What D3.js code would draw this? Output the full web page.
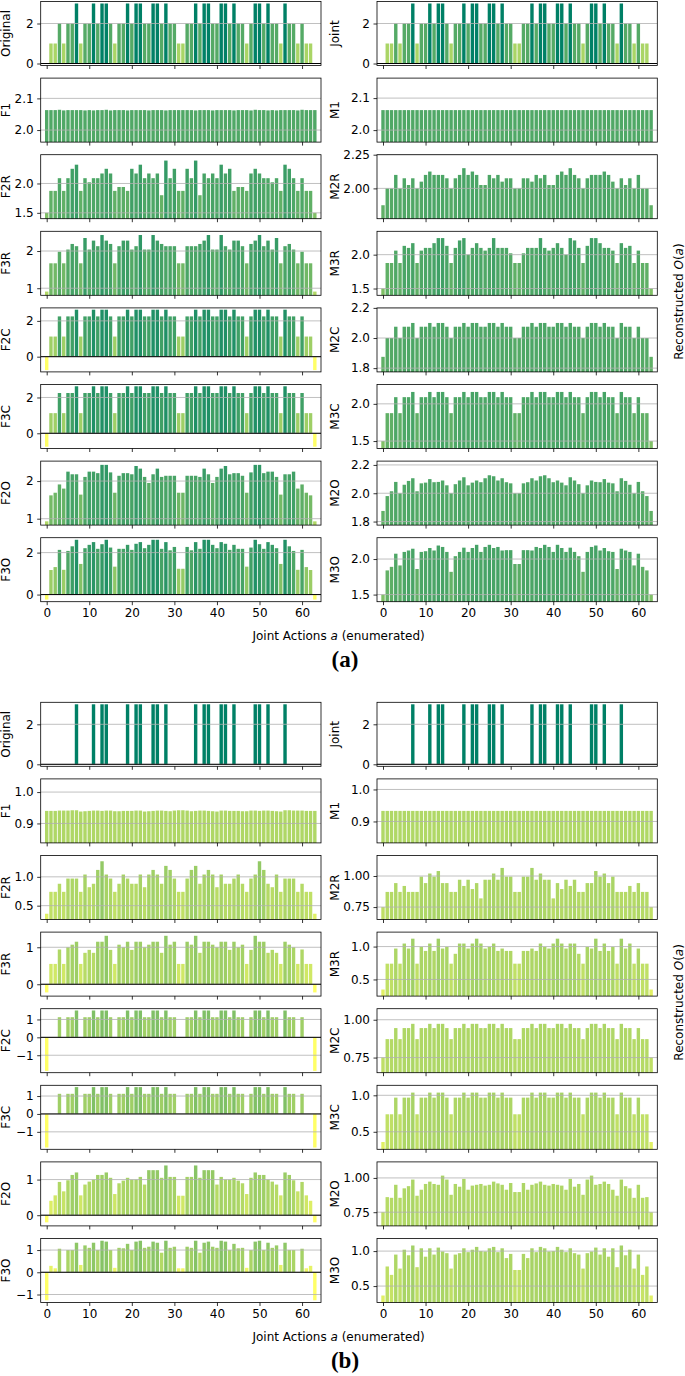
<!DOCTYPE html>
<html><head><meta charset="utf-8">
<script src="https://cdn.jsdelivr.net/npm/d3@7"></script>
<style>body{margin:0;background:#fff}</style>
</head><body>
<svg id="c" width="685" height="1376"></svg>
<script>
const actions = [0,1,2,3,4,5,6,7,8,9,10,11,12,13,14,15,16,17,18,19,20,21,22,23,24,25,26,27,28,29,30,31,32,33,34,35,36,37,38,39,40,41,42,43,44,45,46,47,48,49,50,51,52,53,54,55,56,57,58,59,60,61,62,63];
const xTicks = [0,10,20,30,40,50,60];

// ---------- figure (a) ----------
const aOriginal = [0,1,1,2,1,2,2,3,1,2,2,3,2,3,3,2,1,2,2,3,2,3,3,2,2,3,3,2,3,2,2,1,
                   1,2,2,3,2,3,3,2,2,3,3,2,3,2,2,1,2,3,3,2,3,2,2,1,3,2,2,1,2,1,1,0];
const aJoint    = [0,1,1,2,1,2,2,3,1,2,2,3,2,3,3,2,1,2,2,3,2,3,3,2,2,3,3,2,3,2,2,1,
                   1,2,2,3,2,3,3,2,2,3,3,2,3,2,2,1,2,3,3,2,3,2,2,1,3,2,2,1,2,1,1,0];
const aF1 = [2.063,2.063,2.063,2.064,2.062,2.063,2.063,2.063,2.063,2.062,2.063,2.062,2.063,2.063,2.064,2.062,2.063,2.063,2.063,2.062,2.063,2.063,2.063,2.063,2.062,2.063,2.063,2.063,2.062,2.063,2.063,2.063,
             2.063,2.063,2.063,2.062,2.063,2.063,2.063,2.062,2.063,2.063,2.063,2.063,2.062,2.063,2.063,2.063,2.062,2.064,2.063,2.063,2.062,2.063,2.062,2.063,2.063,2.063,2.063,2.062,2.064,2.063,2.063,2.063];
const aM1 = [2.0625,2.0625,2.0625,2.0625,2.0625,2.0625,2.0625,2.0625,2.0625,2.0625,2.0625,2.0625,2.0625,2.0625,2.0625,2.0625,2.0625,2.0625,2.0625,2.0625,2.0625,2.0625,2.0625,2.0625,2.0625,2.0625,2.0625,2.0625,2.0625,2.0625,2.0625,2.0625,
             2.0625,2.0625,2.0625,2.0625,2.0625,2.0625,2.0625,2.0625,2.0625,2.0625,2.0625,2.0625,2.0625,2.0625,2.0625,2.0625,2.0625,2.0625,2.0625,2.0625,2.0625,2.0625,2.0625,2.0625,2.0625,2.0625,2.0625,2.0625,2.0625,2.0625,2.0625,2.0625];
const aF2R = [1.5,1.874,1.874,2.09,1.874,2.09,2.25,2.32,1.874,2.09,2.02,2.09,2.09,2.17,2.25,2.17,1.874,1.94,1.94,1.874,2.25,2.17,2.32,2.09,2.17,2.09,2.17,1.80,2.39,2.09,2.25,1.874,
              1.874,2.25,2.09,2.39,1.80,2.17,2.09,2.17,2.09,2.32,2.17,2.25,1.874,1.94,1.94,1.874,2.17,2.25,2.17,2.09,2.09,2.02,2.09,1.874,2.32,2.25,2.09,1.874,2.09,1.874,1.874,1.5];
const aM2R = [1.875,2.0,2.0,2.1,2.0,2.075,2.025,2.075,2.0,2.05,2.1,2.125,2.1,2.1,2.1,2.075,2.0,2.075,2.1,2.15,2.1,2.125,2.1,2.025,2.025,2.1,2.075,2.1,2.05,2.075,2.075,2.0,
              2.0,2.075,2.075,2.05,2.1,2.075,2.1,2.025,2.025,2.1,2.125,2.1,2.15,2.1,2.075,2.0,2.075,2.1,2.1,2.1,2.125,2.1,2.05,2.0,2.075,2.025,2.075,2.0,2.1,2.0,2.0,1.875];
const aF3R = [0.91,1.67,1.67,1.98,1.67,2.04,2.19,2.13,1.67,2.35,2.04,2.28,2.13,2.43,2.28,2.19,1.67,2.13,2.28,2.28,2.04,2.13,2.43,2.04,2.04,2.43,2.28,2.19,2.13,2.13,2.13,1.67,
              1.67,2.13,2.13,2.13,2.19,2.28,2.43,2.04,2.04,2.43,2.13,2.04,2.28,2.28,2.13,1.67,2.19,2.28,2.43,2.13,2.28,2.04,2.35,1.67,2.13,2.19,2.04,1.67,1.98,1.67,1.67,0.91];
const aM3R = [1.5,1.877,1.877,2.06,1.877,2.13,2.1,2.17,1.877,2.06,2.1,2.1,2.17,2.245,2.245,2.13,1.877,2.1,2.21,2.245,2.0,2.1,2.17,2.1,2.06,2.1,2.245,2.1,2.1,2.1,2.02,1.877,
              1.877,2.02,2.1,2.1,2.1,2.245,2.1,2.06,2.1,2.17,2.1,2.0,2.245,2.21,2.1,1.877,2.13,2.245,2.245,2.17,2.1,2.1,2.06,1.877,2.17,2.1,2.13,1.877,2.06,1.877,1.877,1.5];
const aF2C = [-0.75,1.125,1.125,2.25,1.125,2.25,2.25,2.625,1.125,2.25,2.25,2.625,2.25,2.625,2.625,2.25,1.125,2.25,2.25,2.625,2.25,2.625,2.625,2.25,2.25,2.625,2.625,2.25,2.625,2.25,2.25,1.125,
              1.125,2.25,2.25,2.625,2.25,2.625,2.625,2.25,2.25,2.625,2.625,2.25,2.625,2.25,2.25,1.125,2.25,2.625,2.625,2.25,2.625,2.25,2.25,1.125,2.625,2.25,2.25,1.125,2.25,1.125,1.125,-0.75];
const aM2C = [1.875,2.0,2.0,2.075,2.0,2.075,2.075,2.1,2.0,2.075,2.075,2.1,2.075,2.1,2.1,2.075,2.0,2.075,2.075,2.1,2.075,2.1,2.1,2.075,2.075,2.1,2.1,2.075,2.1,2.075,2.075,2.0,
              2.0,2.075,2.075,2.1,2.075,2.1,2.1,2.075,2.075,2.1,2.1,2.075,2.1,2.075,2.075,2.0,2.075,2.1,2.1,2.075,2.1,2.075,2.075,2.0,2.1,2.075,2.075,2.0,2.075,2.0,2.0,1.875];
const aF3C = [-0.75,1.125,1.125,2.25,1.125,2.25,2.25,2.625,1.125,2.25,2.25,2.625,2.25,2.625,2.625,2.25,1.125,2.25,2.25,2.625,2.25,2.625,2.625,2.25,2.25,2.625,2.625,2.25,2.625,2.25,2.25,1.125,
              1.125,2.25,2.25,2.625,2.25,2.625,2.625,2.25,2.25,2.625,2.625,2.25,2.625,2.25,2.25,1.125,2.25,2.625,2.625,2.25,2.625,2.25,2.25,1.125,2.625,2.25,2.25,1.125,2.25,1.125,1.125,-0.75];
const aM3C = [1.5,1.875,1.875,2.09,1.875,2.09,2.09,2.16,1.875,2.09,2.09,2.16,2.09,2.16,2.16,2.09,1.875,2.09,2.09,2.16,2.09,2.16,2.16,2.09,2.09,2.16,2.16,2.09,2.16,2.09,2.09,1.875,
              1.875,2.09,2.09,2.16,2.09,2.16,2.16,2.09,2.09,2.16,2.16,2.09,2.16,2.09,2.09,1.875,2.09,2.16,2.16,2.09,2.16,2.09,2.09,1.875,2.16,2.09,2.09,1.875,2.09,1.875,1.875,1.5];
const aF2O = [0.93,1.62,1.69,1.91,1.8,2.25,2.18,2.18,1.64,2.11,2.25,2.25,2.21,2.43,2.43,2.23,1.69,2.14,2.21,2.21,2.18,2.4,2.33,2.11,1.95,2.18,2.33,2.11,2.14,2.14,2.14,1.69,
              1.69,2.14,2.14,2.14,2.11,2.33,2.18,1.95,2.11,2.33,2.4,2.18,2.21,2.21,2.14,1.69,2.23,2.43,2.43,2.21,2.25,2.25,2.11,1.64,2.18,2.18,2.25,1.8,1.91,1.69,1.62,0.93];
const aM2O = [1.875,1.98,2.014,2.08,2.0,2.06,2.087,2.106,2.014,2.07,2.075,2.1,2.078,2.08,2.09,2.056,2.0,2.064,2.09,2.113,2.056,2.075,2.09,2.078,2.106,2.127,2.12,2.09,2.106,2.078,2.07,2.0,
              2.0,2.07,2.078,2.106,2.09,2.12,2.127,2.106,2.078,2.09,2.075,2.056,2.113,2.09,2.064,2.0,2.056,2.09,2.08,2.078,2.1,2.075,2.07,2.014,2.106,2.087,2.06,2.0,2.08,2.014,1.98,1.875];
const aF3O = [-0.24,1.17,1.31,2.13,1.18,2.08,2.3,2.61,1.46,2.21,2.37,2.5,2.18,2.4,2.61,2.24,1.33,2.18,2.18,2.37,2.13,2.42,2.5,2.21,2.37,2.61,2.61,2.18,2.5,2.11,2.27,1.23,
              1.23,2.27,2.11,2.5,2.18,2.61,2.61,2.37,2.21,2.5,2.42,2.13,2.37,2.18,2.18,1.33,2.24,2.61,2.4,2.18,2.5,2.37,2.21,1.46,2.61,2.3,2.08,1.18,2.13,1.31,1.17,-0.24];
const aM3O = [1.5,1.84,1.89,2.075,1.91,2.1,2.12,2.145,1.86,2.1,2.11,2.155,2.12,2.19,2.17,2.1,1.82,2.04,2.1,2.16,2.1,2.155,2.2,2.1,2.17,2.2,2.155,2.17,2.12,2.125,2.125,1.93,
              1.93,2.125,2.125,2.12,2.17,2.155,2.2,2.17,2.1,2.2,2.155,2.1,2.16,2.1,2.04,1.82,2.1,2.17,2.19,2.12,2.155,2.11,2.1,1.86,2.145,2.12,2.1,1.91,2.075,1.89,1.84,1.5];

// ---------- figure (b) ----------
const bOriginal = [0,0,0,0,0,0,0,3,0,0,0,3,0,3,3,0,0,0,0,3,0,3,3,0,0,3,3,0,3,0,0,0,
                   0,0,0,3,0,3,3,0,0,3,3,0,3,0,0,0,0,3,3,0,3,0,0,0,3,0,0,0,0,0,0,0];
const bJoint    = [0,0,0,0,0,0,0,3,0,0,0,3,0,3,3,0,0,0,0,3,0,3,3,0,0,3,3,0,3,0,0,0,
                   0,0,0,3,0,3,3,0,0,3,3,0,3,0,0,0,0,3,3,0,3,0,0,0,3,0,0,0,0,0,0,0];
const bF1 = [0.940,0.940,0.940,0.941,0.941,0.941,0.942,0.942,0.938,0.939,0.940,0.941,0.941,0.940,0.941,0.941,0.939,0.939,0.940,0.940,0.940,0.941,0.941,0.938,0.939,0.940,0.941,0.941,0.940,0.939,0.941,0.942,
             0.942,0.941,0.939,0.940,0.941,0.941,0.940,0.939,0.938,0.941,0.941,0.940,0.940,0.940,0.939,0.939,0.941,0.941,0.940,0.941,0.941,0.940,0.939,0.938,0.942,0.942,0.941,0.941,0.941,0.940,0.940,0.940];
const bM1 = [0.933,0.933,0.933,0.933,0.933,0.933,0.933,0.933,0.933,0.933,0.933,0.933,0.933,0.933,0.933,0.933,0.933,0.933,0.933,0.933,0.933,0.933,0.933,0.933,0.933,0.933,0.933,0.933,0.933,0.933,0.933,0.933,
             0.933,0.933,0.933,0.933,0.933,0.933,0.933,0.933,0.933,0.933,0.933,0.933,0.933,0.933,0.933,0.933,0.933,0.933,0.933,0.933,0.933,0.933,0.933,0.933,0.933,0.933,0.933,0.933,0.933,0.933,0.933,0.933];
const bF2R = [0.36,0.74,0.74,0.88,0.74,0.97,0.97,0.97,0.74,1.04,0.82,0.88,1.12,1.27,1.04,0.97,0.74,0.88,1.04,0.97,0.88,0.88,1.04,0.82,1.04,1.12,1.04,0.88,1.19,1.12,0.97,0.74,
              0.74,0.97,1.12,1.19,0.88,1.04,1.12,1.04,0.82,1.04,0.88,0.88,0.97,1.04,0.88,0.74,0.97,1.04,1.27,1.12,0.88,0.82,1.04,0.74,0.97,0.97,0.97,0.74,0.88,0.74,0.74,0.36];
const bM2R = [0.75,0.872,0.872,0.943,0.872,0.92,0.872,0.872,0.872,0.995,0.943,1.02,0.995,1.04,0.943,0.943,0.872,0.872,0.97,0.92,0.97,0.895,0.943,0.82,0.97,0.97,1.02,0.97,1.065,0.995,0.995,0.872,
              0.872,0.995,0.995,1.065,0.97,1.02,0.97,0.97,0.82,0.943,0.895,0.97,0.92,0.97,0.872,0.872,0.943,0.943,1.04,0.995,1.02,0.943,0.995,0.872,0.872,0.872,0.92,0.872,0.943,0.872,0.872,0.75];
const bF3R = [-0.22,0.55,0.55,0.94,0.55,1.0,1.07,1.15,0.55,0.85,0.93,0.85,1.15,1.15,1.31,0.93,0.55,1.07,1.0,1.15,0.93,1.15,1.15,1.0,1.07,1.15,1.15,0.85,1.31,1.07,1.15,0.55,
              0.55,1.15,1.07,1.31,0.85,1.15,1.15,1.07,1.0,1.15,1.15,0.93,1.15,1.0,1.07,0.55,0.93,1.31,1.15,1.15,0.85,0.93,0.85,0.55,1.15,1.07,1.0,0.55,0.94,0.55,0.55,-0.22];
const bM3R = [0.347,0.74,0.74,0.97,0.74,1.046,0.97,1.12,0.74,0.995,0.934,1.046,0.934,1.12,0.97,0.995,0.74,0.89,1.046,1.046,0.97,1.046,1.12,1.046,0.97,0.995,1.046,0.934,0.97,0.934,0.934,0.74,
              0.74,0.934,0.934,0.97,0.934,1.046,0.995,0.97,1.046,1.12,1.046,0.97,1.046,1.046,0.89,0.74,0.995,0.97,1.12,0.934,1.046,0.934,0.995,0.74,1.12,0.97,1.046,0.74,0.97,0.74,0.74,0.347];
const bF2C = [-1.875,0,0,1.125,0,1.125,1.125,1.5,0,1.125,1.125,1.5,1.125,1.5,1.5,1.125,0,1.125,1.125,1.5,1.125,1.5,1.5,1.125,1.125,1.5,1.5,1.125,1.5,1.125,1.125,0,
              0,1.125,1.125,1.5,1.125,1.5,1.5,1.125,1.125,1.5,1.5,1.125,1.5,1.125,1.125,0,1.125,1.5,1.5,1.125,1.5,1.125,1.125,0,1.5,1.125,1.125,0,1.125,0,0,-1.875];
const bM2C = [0.75,0.872,0.872,0.945,0.872,0.945,0.945,0.973,0.872,0.945,0.945,0.973,0.945,0.973,0.973,0.945,0.872,0.945,0.945,0.973,0.945,0.973,0.973,0.945,0.945,0.973,0.973,0.945,0.973,0.945,0.945,0.872,
              0.872,0.945,0.945,0.973,0.945,0.973,0.973,0.945,0.945,0.973,0.973,0.945,0.973,0.945,0.945,0.872,0.945,0.973,0.973,0.945,0.973,0.945,0.945,0.872,0.973,0.945,0.945,0.872,0.945,0.872,0.872,0.75];
const bF3C = [-1.875,0,0,1.125,0,1.125,1.125,1.5,0,1.125,1.125,1.5,1.125,1.5,1.5,1.125,0,1.125,1.125,1.5,1.125,1.5,1.5,1.125,1.125,1.5,1.5,1.125,1.5,1.125,1.125,0,
              0,1.125,1.125,1.5,1.125,1.5,1.5,1.125,1.125,1.5,1.5,1.125,1.5,1.125,1.125,0,1.125,1.5,1.5,1.125,1.5,1.125,1.125,0,1.5,1.125,1.125,0,1.125,0,0,-1.875];
const bM3C = [0.36,0.74,0.74,0.968,0.74,0.968,0.968,1.037,0.74,0.968,0.968,1.037,0.968,1.037,1.037,0.968,0.74,0.968,0.968,1.037,0.968,1.037,1.037,0.968,0.968,1.037,1.037,0.968,1.037,0.968,0.968,0.74,
              0.74,0.968,0.968,1.037,0.968,1.037,1.037,0.968,0.968,1.037,1.037,0.968,1.037,0.968,0.968,0.74,0.968,1.037,1.037,0.968,1.037,0.968,0.968,0.74,1.037,0.968,0.968,0.74,0.968,0.74,0.74,0.36];
const bF2O = [-0.2,0.405,0.557,0.934,0.67,0.98,1.13,1.2,0.557,0.86,0.943,1.0,1.13,1.13,1.2,1.05,0.594,0.896,0.97,1.05,1.0,1.0,1.075,0.86,1.264,1.264,1.264,1.05,1.396,1.075,1.075,0.547,
              0.547,1.075,1.075,1.396,1.05,1.264,1.264,1.264,0.86,1.075,1.0,1.0,1.05,0.97,0.896,0.594,1.05,1.2,1.13,1.13,1.0,0.943,0.86,0.557,1.2,1.13,0.98,0.67,0.934,0.557,0.405,-0.2];
const bM2O = [0.75,0.86,0.855,0.95,0.855,0.924,0.94,0.988,0.87,0.914,0.956,0.973,0.956,0.95,1.017,0.988,0.877,0.956,0.936,0.993,0.914,0.944,0.95,0.956,0.944,0.95,0.973,0.96,0.95,0.914,0.963,0.897,
              0.897,0.963,0.914,0.95,0.96,0.973,0.95,0.944,0.956,0.95,0.944,0.914,0.993,0.936,0.956,0.877,0.988,1.017,0.95,0.956,0.973,0.956,0.914,0.87,0.988,0.94,0.924,0.855,0.95,0.855,0.86,0.75];
const bF3O = [-1.26,0.29,0.18,1.06,0.01,1.0,1.0,1.33,0.33,1.21,1.1,1.33,1.0,1.42,1.38,1.0,0.2,1.1,1.08,1.28,1.0,1.38,1.42,1.1,1.15,1.38,1.33,0.88,1.42,1.1,1.15,0.18,
              0.18,1.15,1.1,1.42,0.88,1.33,1.38,1.15,1.1,1.42,1.38,1.0,1.28,1.08,1.1,0.2,1.0,1.38,1.42,1.0,1.33,1.1,1.21,0.33,1.33,1.0,1.0,0.01,1.06,0.18,0.29,-1.26];
const bM3O = [0.365,0.78,0.66,0.95,0.75,1.02,0.94,1.08,0.77,1.04,0.92,1.04,0.95,1.05,0.995,0.97,0.75,0.95,0.97,1.04,0.985,1.02,1.06,1.0,0.995,1.04,1.06,0.985,1.04,0.9,0.96,0.73,
              0.73,0.96,0.9,1.04,0.985,1.06,1.04,0.995,1.0,1.06,1.02,0.985,1.04,0.97,0.95,0.75,0.97,0.995,1.05,0.95,1.04,0.92,1.04,0.77,1.08,0.94,1.02,0.75,0.95,0.66,0.78,0.365];

// y ticks: [values, labels]
const figA = [
  ["Original", aOriginal, [0,2], ["0","2"], "Joint", aJoint, [0,2], ["0","2"]],
  ["F1", aF1, [2.0,2.1], ["2.0","2.1"], "M1", aM1, [2.0,2.1], ["2.0","2.1"]],
  ["F2R", aF2R, [1.5,2.0], ["1.5","2.0"], "M2R", aM2R, [2.0,2.25], ["2.00","2.25"]],
  ["F3R", aF3R, [1,2], ["1","2"], "M3R", aM3R, [1.5,2.0], ["1.5","2.0"]],
  ["F2C", aF2C, [0,2], ["0","2"], "M2C", aM2C, [1.8,2.0,2.2], ["1.8","2.0","2.2"]],
  ["F3C", aF3C, [0,2], ["0","2"], "M3C", aM3C, [1.5,2.0], ["1.5","2.0"]],
  ["F2O", aF2O, [1,2], ["1","2"], "M2O", aM2O, [1.8,2.0,2.2], ["1.8","2.0","2.2"]],
  ["F3O", aF3O, [0,2], ["0","2"], "M3O", aM3O, [1.5,2.0], ["1.5","2.0"]]
];
const figB = [
  ["Original", bOriginal, [0,2], ["0","2"], "Joint", bJoint, [0,2], ["0","2"]],
  ["F1", bF1, [0.9,1.0], ["0.9","1.0"], "M1", bM1, [0.9,1.0], ["0.9","1.0"]],
  ["F2R", bF2R, [0.5,1.0], ["0.5","1.0"], "M2R", bM2R, [0.75,1.0], ["0.75","1.00"]],
  ["F3R", bF3R, [0,1], ["0","1"], "M3R", bM3R, [0.5,1.0], ["0.5","1.0"]],
  ["F2C", bF2C, [-1,0,1], ["\u22121","0","1"], "M2C", bM2C, [0.75,1.0], ["0.75","1.00"]],
  ["F3C", bF3C, [-1,0,1], ["\u22121","0","1"], "M3C", bM3C, [0.5,1.0], ["0.5","1.0"]],
  ["F2O", bF2O, [0,1], ["0","1"], "M2O", bM2O, [0.75,1.0], ["0.75","1.00"]],
  ["F3O", bF3O, [-1,0,1], ["\u22121","0","1"], "M3O", bM3O, [0.5,1.0], ["0.5","1.0"]]
];

const svg = d3.select("#c");
const FONT = "DejaVu Sans", FS = 12;
const color = d3.scaleLinear().domain([0,3]).range(["#ffff66","#008066"]).clamp(true);
const colX = [40.7, 377.0], panelW = 280.3, panelH = 64, stepY = 76.6;
const labX = [9.5, 339];
let clipId = 0, bad = [];

function drawPanel(x0, y0, name, data, ticks, labels, labx, bottom){
  if (data.length !== 64) bad.push(name + ":" + data.length);
  const g = svg.append("g");
  const x = d3.scaleLinear().domain([-1.41, 64.45]).range([x0, x0+panelW]);
  const ext = d3.extent(data);
  const y = d3.scaleLinear().domain([ext[0]-0.1, ext[1]+0.1]).range([y0+panelH, y0]);
  const id = "cp"+(clipId++);
  g.append("clipPath").attr("id", id).append("rect")
    .attr("x", x0).attr("y", y0).attr("width", panelW).attr("height", panelH);
  const inner = g.append("g").attr("clip-path", `url(#${id})`);
  const bw = x(0.8) - x(0);
  inner.selectAll("rect.bar").data(actions).join("rect").attr("class","bar")
    .attr("x", i => x(i) - bw/2).attr("width", bw)
    .attr("y", i => Math.min(y(data[i]), y(0)))
    .attr("height", i => Math.abs(y(data[i]) - y(0)))
    .attr("fill", i => color(data[i]));
  inner.selectAll("line.grid").data(ticks).join("line").attr("class","grid")
    .attr("x1", x0).attr("x2", x0+panelW).attr("y1", d => y(d)).attr("y2", d => y(d))
    .attr("stroke", "#b0b0b0").attr("stroke-width", 0.8);
  if (y.domain()[0] < 0 && y.domain()[1] > 0) {
    inner.append("line").attr("x1", x0).attr("x2", x0+panelW)
      .attr("y1", y(0)).attr("y2", y(0)).attr("stroke", "#000").attr("stroke-width", 1);
  }
  g.append("rect").attr("x", x0).attr("y", y0).attr("width", panelW).attr("height", panelH)
    .attr("fill", "none").attr("stroke", "#000").attr("stroke-width", 0.8);
  const ya = d3.axisLeft(y).tickValues(ticks).tickFormat((d,k) => labels[k]).tickSize(3.5).tickPadding(3.5);
  const yg = g.append("g").attr("transform", `translate(${x0},0)`).call(ya);
  yg.select(".domain").remove();
  const xa = d3.axisBottom(x).tickValues(xTicks).tickFormat(bottom ? d3.format("d") : () => "").tickSize(3.5).tickPadding(3.5);
  const xg = g.append("g").attr("transform", `translate(0,${y0+panelH})`).call(xa);
  xg.select(".domain").remove();
  g.selectAll(".tick text").attr("font-family", FONT).attr("font-size", FS).attr("fill", "#000");
  g.selectAll(".tick line").attr("stroke", "#000").attr("stroke-width", 0.8);
  g.append("text").attr("transform", `translate(${labx},${y0+panelH/2}) rotate(-90)`)
    .attr("text-anchor", "middle").attr("font-family", FONT).attr("font-size", FS).text(name);
}

function drawFigure(rows, top, tag){
  rows.forEach((r, k) => {
    const y0 = top + k*stepY;
    const last = k === rows.length-1;
    drawPanel(colX[0], y0, r[0], r[1], r[2], r[3], labX[0], last);
    drawPanel(colX[1], y0, r[4], r[5], r[6], r[7], labX[1], last);
  });
  const bot = top + 7*stepY + panelH;
  const xl = svg.append("text").attr("x", 338.6).attr("y", bot + 38.5).attr("text-anchor", "middle")
    .attr("font-family", FONT).attr("font-size", FS);
  xl.append("tspan").text("Joint Actions ");
  xl.append("tspan").attr("font-style", "italic").text("a");
  xl.append("tspan").text(" (enumerated)");
  const yl = svg.append("text").attr("transform", `translate(683,${top + (7*stepY+panelH)/2}) rotate(-90)`)
    .attr("text-anchor", "middle").attr("font-family", FONT).attr("font-size", FS);
  yl.append("tspan").text("Reconstructed ");
  yl.append("tspan").attr("font-style", "italic").text("O");
  yl.append("tspan").text("(");
  yl.append("tspan").attr("font-style", "italic").text("a");
  yl.append("tspan").text(")");
  svg.append("text").attr("x", 345).attr("y", bot + 65).attr("text-anchor", "middle")
    .attr("font-family", "Liberation Serif").attr("font-weight", "bold").attr("font-size", 23).text(tag);
}

drawFigure(figA, 1.5, "(a)");
drawFigure(figB, 702.3, "(b)");
if (bad.length) svg.append("text").attr("x", 100).attr("y", 690).attr("fill", "red").attr("font-size", 14).text("LEN " + bad.join(" "));
</script>
</body></html>
